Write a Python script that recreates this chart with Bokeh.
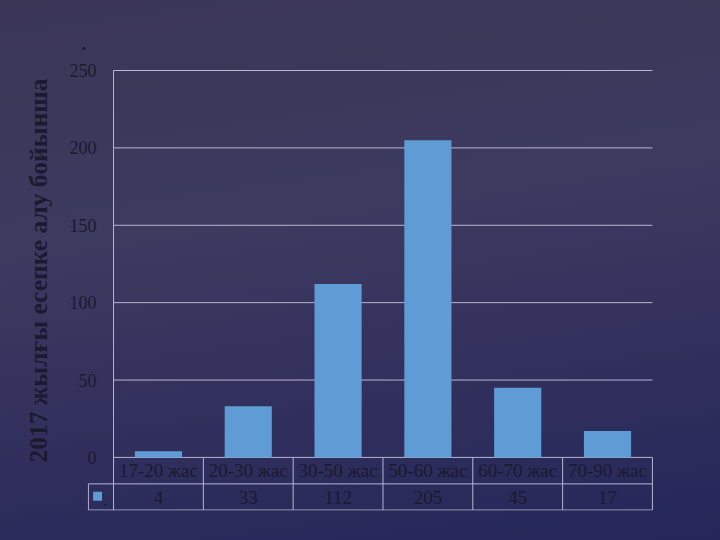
import numpy as np
from bokeh.plotting import figure
from bokeh.models import Range1d, FixedTicker, Title
from bokeh.core.properties import value
from bokeh.embed import file_html
from bokeh.resources import INLINE

# ---- data ----
categories = ["17-20 жас", "20-30 жас", "30-50 жас", "50-60 жас", "60-70 жас", "70-90 жас"]
counts = [4, 33, 112, 205, 45, 17]
y_ticks = [0, 50, 100, 150, 200, 250]
y_title = "2017 жылғы есепке алу бойынша"

TEXT = "#1a1a30"
GRID = "#b6b6d0"
BAR = "#5f9bd5"
FONT = "Liberation Serif"
BG = "linear-gradient(172deg, #3b3656 0%, #3d3a60 40%, #2f2e5c 75%, #25275a 100%)"

n = len(categories)
xs = np.arange(n) + 0.5

row_split = -17.1
y_lo = -34.3
x_lo = -0.29

p = figure(width=704, height=524, output_backend="svg", toolbar_location=None,
           x_axis_location=None, x_range=Range1d(x_lo, n + 0.012),
           y_range=Range1d(y_lo, 250.65),
           min_border_left=87, min_border_right=51, min_border_top=69, min_border_bottom=14)
p.border_fill_alpha = 0
p.background_fill_alpha = 0
p.outline_line_color = None
p.grid.visible = False

ax = p.yaxis[0]
ax.ticker = FixedTicker(ticks=y_ticks)
ax.axis_line_color = None
ax.major_tick_line_color = None
ax.minor_tick_line_color = None
ax.major_tick_in = 0
ax.major_tick_out = 0
ax.major_label_standoff = -9
ax.major_label_text_font = FONT
ax.major_label_text_font_size = "18px"
ax.major_label_text_color = TEXT

# rotated title on the left
p.add_layout(Title(text=y_title, align="left", text_font=FONT, text_font_size="25.5px",
                   text_font_style="bold", text_color=TEXT, offset=48, standoff=28), "left")
# stray dot above
p.add_layout(Title(text=".", align="left", text_font=FONT, text_font_size="18px",
                   text_color=TEXT, offset=-6, standoff=40), "above")

# horizontal gridlines
p.segment(x0=[0] * len(y_ticks), x1=[n] * len(y_ticks), y0=y_ticks, y1=y_ticks,
          line_color=GRID, line_width=1)

# bars
p.vbar(x=xs, top=counts, bottom=0, width=0.525, fill_color=BAR, line_color=None)

# data table lines
p.segment(x0=[0], x1=[0], y0=[y_lo + 0.3], y1=[250], line_color=GRID, line_width=1)
vx = list(range(1, n + 1))
p.segment(x0=vx, x1=vx, y0=[y_lo + 0.3] * n, y1=[0] * n, line_color=GRID, line_width=1)
p.segment(x0=[x_lo + 0.01, x_lo + 0.01], x1=[n, n], y0=[row_split, y_lo + 0.3],
          y1=[row_split, y_lo + 0.3], line_color=GRID, line_width=1)
p.segment(x0=[x_lo + 0.01], x1=[x_lo + 0.01], y0=[y_lo + 0.3], y1=[row_split],
          line_color=GRID, line_width=1)

# table texts
p.text(x=xs, y=[row_split / 2] * n, text=categories, text_align="center",
       text_baseline="middle", text_font=value(FONT), text_font_size=value("19px"),
       text_color=TEXT)
p.text(x=xs, y=[(row_split + y_lo) / 2] * n, text=[str(c) for c in counts],
       text_align="center", text_baseline="middle", text_font=value(FONT),
       text_font_size=value("19px"), text_color=TEXT)

# legend key
p.scatter(x=[-0.178], y=[(row_split + y_lo) / 2 + 0.6], marker="square", size=9,
          fill_color=BAR, line_color=None)
p.text(x=[-0.094], y=[-28.0], text=["."], text_align="center",
       text_baseline="alphabetic", text_font=value(FONT), text_font_size=value("17px"),
       text_color=TEXT)

html = file_html(p, INLINE)
html = html.replace("</head>",
                    "<style>html{min-height:100%;background:" + BG + ";}"
                    "body{background:transparent;}</style></head>", 1)
open("out.html", "w").write(html)
